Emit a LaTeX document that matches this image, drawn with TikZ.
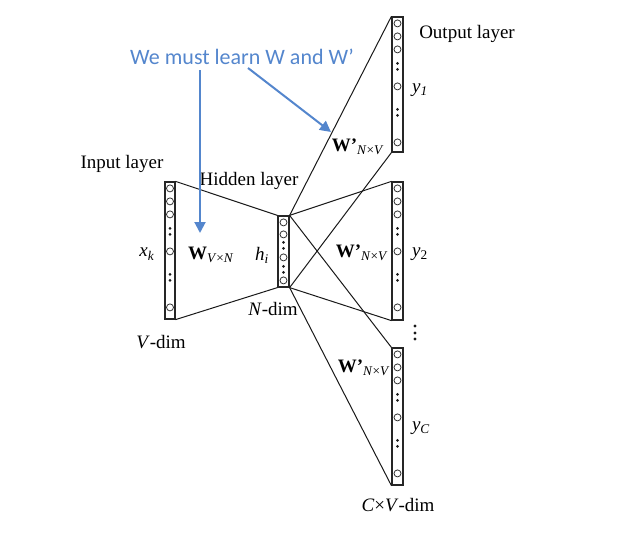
\documentclass[tikz,border=0pt]{standalone}
\usepackage{fontspec}
\setmainfont{Liberation Serif}
\newfontfamily\callfont{Carlito}
\usetikzlibrary{arrows.meta}
\definecolor{noteblue}{RGB}{84,134,205}
\tikzset{
  layer/.style={draw=black!85, line width=1.2pt, rectangle, inner sep=0pt, minimum width=11pt},
  neuron/.style={draw=black!80, line width=0.8pt, circle, inner sep=0pt, minimum size=7pt},
  conn/.style={draw=black!90, line width=1pt},
  lbl/.style={font=\fontsize{19}{22}\selectfont, inner sep=0pt},
  note/.style={font=\callfont\fontsize{22}{26}\selectfont, text=noteblue, inner sep=0pt},
  notearrow/.style={draw=noteblue, line width=2pt, -{Triangle[length=11pt,width=11pt]}}
}
\newcommand\fillcol[1]{%
  \foreach \d in {7,20,33,70,126} \node[neuron] (#1c\d) at ([yshift=-\d pt]#1.north) {};
  \foreach \d in {47,53,93,99} \fill[black!90] ([yshift=-\d pt]#1.north) circle (1.5pt);}
\begin{document}
\begin{tikzpicture}[x=1pt,y=-1pt]
\useasboundingbox (0,0) rectangle (625,533);
% layers
\node[layer, minimum width=10pt, minimum height=137pt] (in) at (170,250.5) {};
\node[layer, minimum height=71pt] (hid) at (283.5,251.5) {};
\node[layer, minimum height=135pt] (o1) at (397.5,84.5) {};
\node[layer, minimum height=138pt] (o2) at (397.5,251) {};
\node[layer, minimum height=137pt] (o3) at (397.5,416.5) {};
\fillcol{in}\fillcol{o1}\fillcol{o2}\fillcol{o3}
\foreach \d in {7,19,42,65} \node[neuron] (hidc\d) at ([yshift=-\d pt]hid.north) {};
\foreach \d in {27,33,51,57} \fill[black!90] ([yshift=-\d pt]hid.north) circle (1.5pt);
% connectors
\draw[conn] (in.north east) -- (hid.north west);
\draw[conn] (in.south east) -- (hid.south west);
\foreach \o in {o1,o2,o3}{
  \draw[conn] (hid.north east) -- (\o.north west);
  \draw[conn] (hid.south east) -- (\o.south west);
}
% vertical ellipsis between outputs
\foreach \d in {326,333,339} \fill[black!90] (415,\d) circle (1.6pt);
% labels
\node[lbl] (tin) at (122,164) {Input layer};
\node[lbl] (thid) at (249,181) {Hidden layer};
\node[lbl] (tout) at (467,34) {Output layer};
\node[lbl] (xk) at (147,254) {\textit{x}\textsubscript{\textit{k}}};
\node[lbl] (wvn) at (211,255) {\textbf{W}\textsubscript{\textit{V}×\textit{N}}};
\node[lbl] (hi) at (262,255) {\textit{h}\textsubscript{\textit{i}}};
\node[lbl] (ndim) at (273,309) {\textit{N}-dim};
\node[lbl] (vdim) at (161,342) {\textit{V}-dim};
\node[lbl] (y1) at (420,90) {\textit{y}\textsubscript{\textit{1}}};
\node[lbl] (w1) at (358,147) {\textbf{W'}\textsubscript{\textit{N}×\textit{V}}};
\node[lbl] (w2) at (362,253) {\textbf{W'}\textsubscript{\textit{N}×\textit{V}}};
\node[lbl] (y2) at (420,254) {\textit{y}\textsubscript{2}};
\node[lbl] (w3) at (364,368) {\textbf{W'}\textsubscript{\textit{N}×\textit{V}}};
\node[lbl] (yc) at (421,428) {\textit{y}\textsubscript{\textit{C}}};
\node[lbl] (cvdim) at (398,505) {\textit{C}×\textit{V}-dim};
% note
\node[note] (bt) at (242,57) {We must learn W and W’};
\coordinate (a1s) at (200,70);
\coordinate (a1e) at (200,233);
\coordinate (a2s) at (248,68);
\coordinate (a2e) at (331,132);
\draw[notearrow] (a1s) -- (a1e);
\draw[notearrow] (a2s) -- (a2e);
\end{tikzpicture}
\end{document}
